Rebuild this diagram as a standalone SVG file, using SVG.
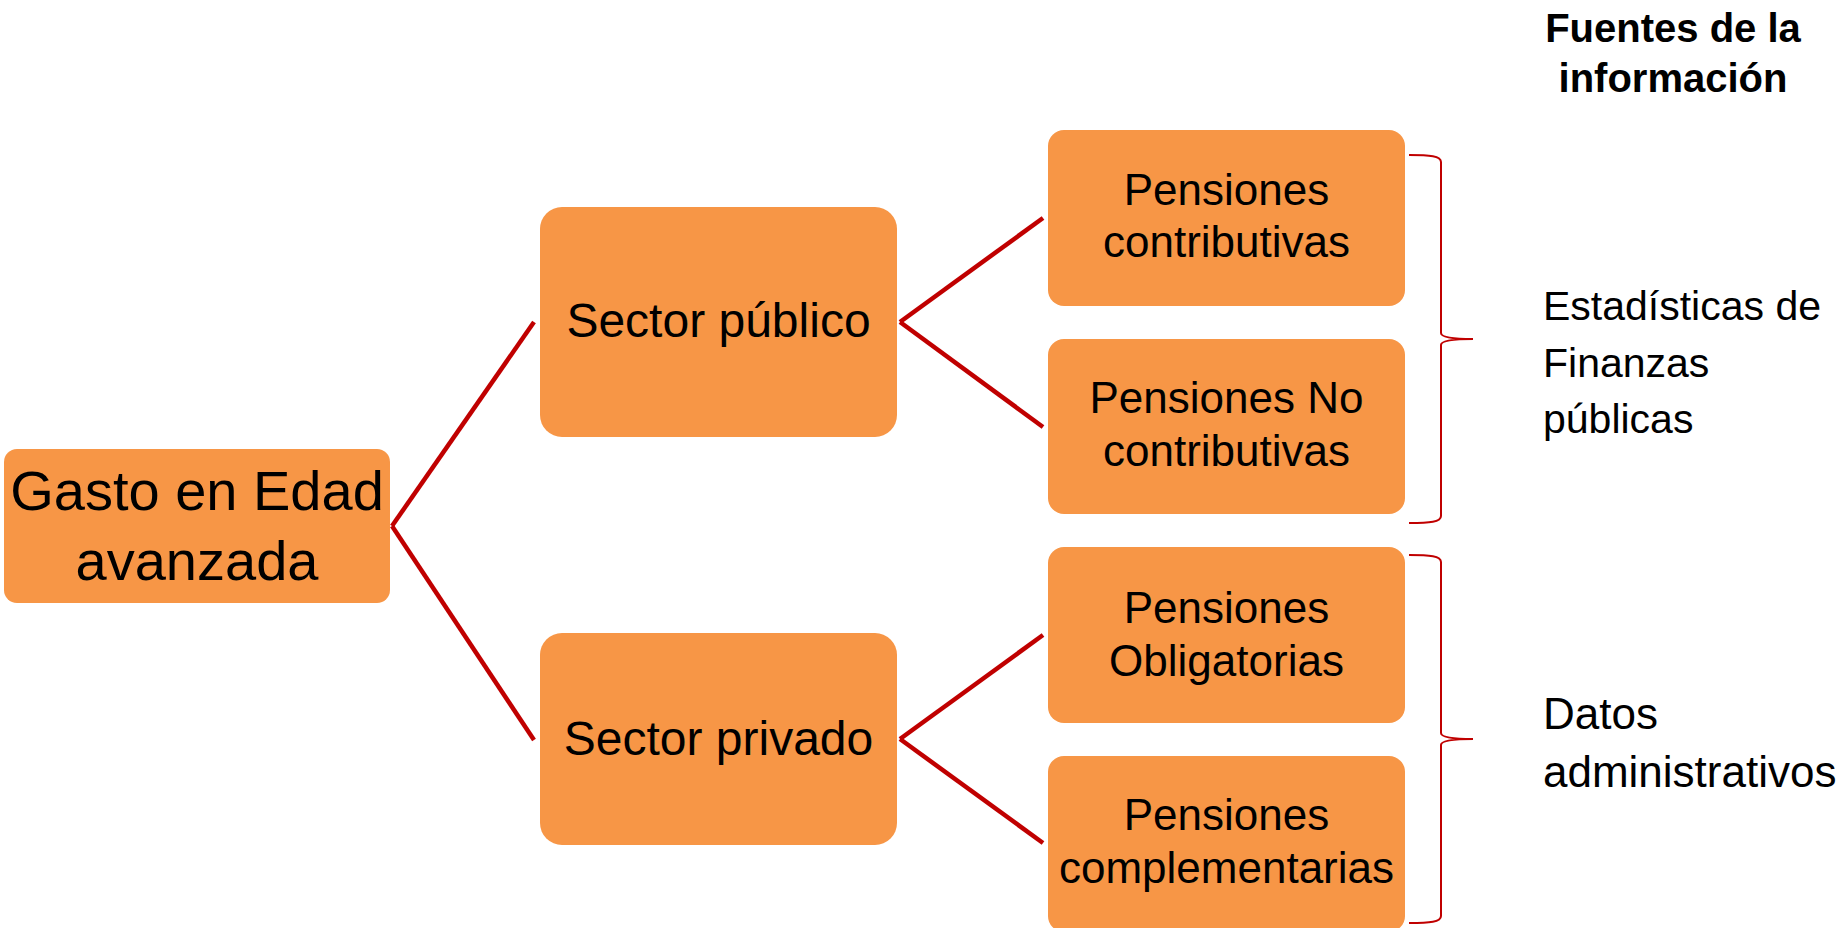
<svg xmlns="http://www.w3.org/2000/svg" width="1848" height="928" viewBox="0 0 1848 928">
<style>
.box{fill:#F79646;}
.t{font-family:"Liberation Sans",Arial,sans-serif;fill:#000;text-anchor:middle;}
.l{font-family:"Liberation Sans",Arial,sans-serif;fill:#000;}
.c{stroke:#C00000;stroke-width:4.5;fill:none;}
.br{stroke:#C00000;stroke-width:2;fill:none;}
</style>
<rect width="1848" height="928" fill="#fff"/>
<g id="connectors">
<line class="c" x1="392" y1="526" x2="534" y2="322"/>
<line class="c" x1="392" y1="526" x2="534" y2="740"/>
<line class="c" x1="900" y1="322" x2="1043" y2="218"/>
<line class="c" x1="900" y1="322" x2="1043" y2="427"/>
<line class="c" x1="900" y1="739" x2="1043" y2="635"/>
<line class="c" x1="900" y1="739" x2="1043" y2="843"/>
</g>
<g id="gasto">
<rect class="box" x="4" y="449" width="386" height="154" rx="13"/>
<text class="t" font-size="56" x="197" y="510">Gasto en Edad</text>
<text class="t" font-size="56" x="197" y="580">avanzada</text>
</g>
<g id="sector-publico">
<rect class="box" x="540" y="207" width="357" height="230" rx="22"/>
<text class="t" font-size="48" x="718.5" y="337">Sector público</text>
</g>
<g id="sector-privado">
<rect class="box" x="540" y="633" width="357" height="212" rx="22"/>
<text class="t" font-size="48" x="718.5" y="755">Sector privado</text>
</g>
<g id="pensiones-contributivas">
<rect class="box" x="1048" y="130" width="357" height="176" rx="16"/>
<text class="t" font-size="44" x="1226.5" y="205">Pensiones</text>
<text class="t" font-size="44" x="1226.5" y="257">contributivas</text>
</g>
<g id="pensiones-no-contributivas">
<rect class="box" x="1048" y="339" width="357" height="175" rx="16"/>
<text class="t" font-size="44" x="1226.5" y="413">Pensiones No</text>
<text class="t" font-size="44" x="1226.5" y="466">contributivas</text>
</g>
<g id="pensiones-obligatorias">
<rect class="box" x="1048" y="547" width="357" height="176" rx="16"/>
<text class="t" font-size="44" x="1226.5" y="623">Pensiones</text>
<text class="t" font-size="44" x="1226.5" y="676">Obligatorias</text>
</g>
<g id="pensiones-complementarias">
<rect class="box" x="1048" y="756" width="357" height="176" rx="16"/>
<text class="t" font-size="44" x="1226.5" y="830">Pensiones</text>
<text class="t" font-size="44" x="1226.5" y="883">complementarias</text>
</g>
<g id="brace-publicas">
<path class="br" d="M1409,155 C1430,155 1441,156 1441,162 L1441,333 C1441,337 1450,339 1473,339 C1450,339 1441,341 1441,345 L1441,516 C1441,522 1430,523 1409,523"/>
<text class="l" font-size="41" x="1543" y="320">Estadísticas de</text>
<text class="l" font-size="41" x="1543" y="377">Finanzas</text>
<text class="l" font-size="41" x="1543" y="433">públicas</text>
</g>
<g id="brace-administrativos">
<path class="br" d="M1409,555 C1430,555 1441,556 1441,562 L1441,733 C1441,737 1450,739 1473,739 C1450,739 1441,741 1441,745 L1441,916 C1441,922 1430,923 1409,923"/>
<text class="l" font-size="44" x="1543" y="729">Datos</text>
<text class="l" font-size="44" x="1543" y="787">administrativos</text>
</g>
<g id="header">
<text class="t" font-size="40" font-weight="bold" x="1673" y="42">Fuentes de la</text>
<text class="t" font-size="40" font-weight="bold" x="1673" y="92">información</text>
</g>
</svg>
